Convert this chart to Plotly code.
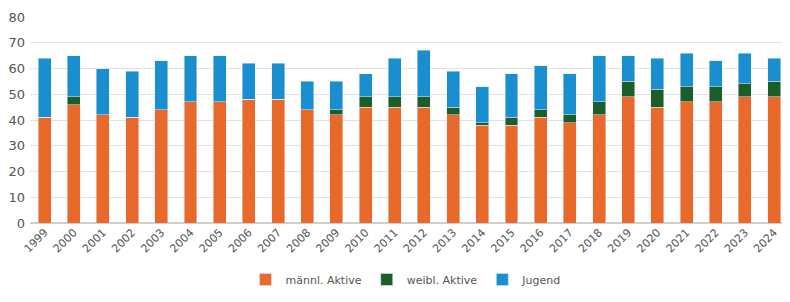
import plotly.graph_objects as go

years = [str(y) for y in range(1999, 2025)]
maennl = [41, 46, 42, 41, 44, 47, 47, 48, 48, 44, 42, 45, 45, 45, 42, 38, 38, 41, 39, 42, 49, 45, 47, 47, 49, 49]
weibl = [0, 3, 0, 0, 0, 0, 0, 0, 0, 0, 2, 4, 4, 4, 3, 1, 3, 3, 3, 5, 6, 7, 6, 6, 5, 6]
jugend = [23, 16, 18, 18, 19, 18, 18, 14, 14, 11, 11, 9, 15, 18, 14, 14, 17, 17, 16, 18, 10, 12, 13, 10, 12, 9]
y_ticks = [0, 10, 20, 30, 40, 50, 60, 70, 80]

fig = go.Figure()
fig.add_trace(go.Bar(x=years, y=maennl, name="männl. Aktive", marker_color="#E8692A"))
fig.add_trace(go.Bar(x=years, y=weibl, name="weibl. Aktive", marker_color="#1B5E2A"))
fig.add_trace(go.Bar(x=years, y=jugend, name="Jugend", marker_color="#1A8FD0"))

fig.update_layout(
    barmode="stack",
    bargap=0.555,
    width=774, height=286,
    margin=dict(l=22, r=0, t=9, b=71),
    paper_bgcolor="white", plot_bgcolor="white",
    font=dict(family="DejaVu Sans", size=11, color="#555"),
    legend=dict(orientation="h", x=0.5, xanchor="center", yref="container", y=0.0, yanchor="bottom",
                font=dict(size=11, color="#555"), itemwidth=30, traceorder="normal"),
    showlegend=True,
)
fig.update_xaxes(type="category", tickangle=-45, range=[-0.5, 25.27], automargin=False,
                 showgrid=False, showline=False, ticks="", tickfont=dict(size=11, color="#555"))
fig.update_yaxes(range=[0, 80], tickvals=y_ticks, showgrid=True, gridcolor="#e2e2e2", gridwidth=1,
                 automargin=False, ticklabelstandoff=4,
                 zeroline=True, zerolinecolor="#cfcfcf", ticks="", tickfont=dict(size=13, color="#555"))

fig.write_html("out.html")
